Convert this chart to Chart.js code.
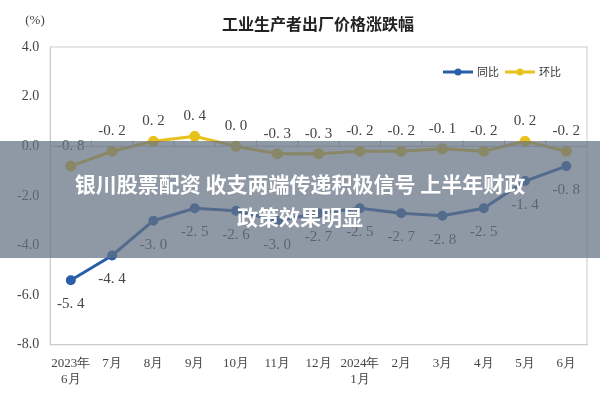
<!DOCTYPE html>
<html><head><meta charset="utf-8">
<script src="https://cdn.jsdelivr.net/npm/chart.js@4"></script>
<style>
body{margin:0;background:#fff;}
#wrap{position:relative;width:600px;height:400px;}
#banner{position:absolute;left:0;top:141px;width:600px;height:117px;background:rgba(100,112,130,0.72);color:#fff;font:bold 21px "Noto Sans CJK SC";text-align:center;line-height:33px;padding-top:26px;box-sizing:border-box;}
</style></head><body>
<div id="wrap"><canvas id="c" width="600" height="400"></canvas>
<div id="banner">银川股票配资 收支两端传递积极信号 上半年财政<br>政策效果明显</div></div>
<script>
const categories=[["2023年","6月"],"7月","8月","9月","10月","11月","12月",["2024年","1月"],"2月","3月","4月","5月","6月"];
const yoy=[-5.4,-4.4,-3.0,-2.5,-2.6,-3.0,-2.7,-2.5,-2.7,-2.8,-2.5,-1.4,-0.8];
const mom=[-0.8,-0.2,0.2,0.4,0.0,-0.3,-0.3,-0.2,-0.2,-0.1,-0.2,0.2,-0.2];
const yTicks=[4,2,0,-2,-4,-6,-8];
const labelPlugin={id:'lbl',afterDatasetsDraw(ch){
  const ctx=ch.ctx;ctx.save();ctx.font='15px "Liberation Serif"';ctx.fillStyle='#444';ctx.textAlign='center';
  ch.data.datasets.forEach((ds,di)=>{const m=ch.getDatasetMeta(di);
    m.data.forEach((p,i)=>{const v=ds.data[i];const t=v.toFixed(1).replace('.', '. ');
      const dy = di===0 ? 28 : -16;
      ctx.fillText(t,p.x,p.y+dy);});});
  ctx.font='bold 16px "Noto Sans CJK SC"';ctx.fillStyle='#222';ctx.fillText('工业生产者出厂价格涨跌幅',318,30);
  ctx.font='13px "Liberation Serif"';ctx.fillStyle='#444';ctx.fillText('(%)',35,24);
  const lg=[['同比','#2a5ea8',443],['环比','#e8c21a',505]];
  ctx.font='11px "Noto Sans CJK SC"';ctx.textAlign='left';ctx.textBaseline='middle';
  lg.forEach(([t,c,x])=>{ctx.strokeStyle=c;ctx.fillStyle=c;ctx.lineWidth=3;ctx.beginPath();ctx.moveTo(x,72);ctx.lineTo(x+30,72);ctx.stroke();
    ctx.beginPath();ctx.arc(x+15,72,3.5,0,7);ctx.fill();ctx.fillStyle='#333';ctx.fillText(t,x+34,72);});
  const y0=ch.scales.y.getPixelForValue(0);const a=ch.chartArea;
  ctx.strokeStyle='#bbb';ctx.lineWidth=1;ctx.beginPath();ctx.moveTo(a.left,y0);ctx.lineTo(a.right,y0);
  const n=categories.length;for(let i=1;i<n;i++){const x=a.left+(a.right-a.left)*i/n;ctx.moveTo(x,y0);ctx.lineTo(x,y0-6);}
  ctx.stroke();
  ctx.strokeStyle='#ccc';ctx.strokeRect(a.left,a.top,a.right-a.left,a.bottom-a.top);
  ctx.restore();}};
new Chart(document.getElementById('c'),{type:'line',
 data:{labels:categories,datasets:[
  {label:'同比',data:yoy,borderColor:'#2a5ea8',backgroundColor:'#2a5ea8',borderWidth:3,pointRadius:3.5,tension:0},
  {label:'环比',data:mom,borderColor:'#e8c21a',backgroundColor:'#e8c21a',borderWidth:3,pointRadius:4,tension:0}]},
 options:{responsive:false,animation:false,
  layout:{padding:{left:14,right:13,top:47,bottom:10}},
  plugins:{legend:{display:false},tooltip:{enabled:false}},
  scales:{x:{offset:true,grid:{display:false},border:{color:'#ccc'},ticks:{color:'#444',font:{size:13,family:'Liberation Serif'},maxRotation:0,autoSkip:false}},
   y:{min:-8,max:4,afterBuildTicks(s){s.ticks=yTicks.map(v=>({value:v}));},grid:{display:false},border:{color:'#ccc'},
    ticks:{color:'#444',font:{size:14,family:'Liberation Serif'},callback:v=>v.toFixed(1)}}}},
 plugins:[labelPlugin]});
</script></body></html>
